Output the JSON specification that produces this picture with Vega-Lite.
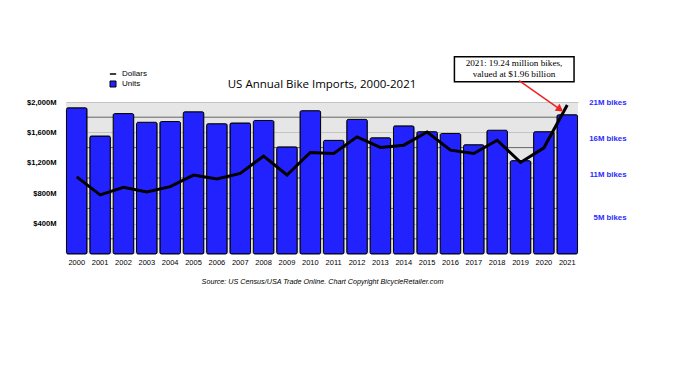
{
  "$schema": "https://vega.github.io/schema/vega-lite/v6.json",
  "width": 512,
  "height": 152,
  "autosize": {"type": "none"},
  "padding": {"left": 66, "top": 102, "right": 98, "bottom": 126},
  "background": "white",
  "config": {
    "view": {"fill": "#e6e6e6", "stroke": null},
    "font": "Liberation Sans"
  },
  "title": {
    "text": "US Annual Bike Imports, 2000-2021",
    "font": "Open Sans",
    "fontSize": 11.5,
    "fontWeight": "normal",
    "color": "#000000",
    "anchor": "middle",
    "offset": -35
  },
  "datasets": {
    "imports": [
      {"year": "2000", "units": 20.2, "dollars": 1015},
      {"year": "2001", "units": 16.3, "dollars": 777},
      {"year": "2002", "units": 19.4, "dollars": 878},
      {"year": "2003", "units": 18.2, "dollars": 816},
      {"year": "2004", "units": 18.3, "dollars": 886},
      {"year": "2005", "units": 19.65, "dollars": 1039},
      {"year": "2006", "units": 18.0, "dollars": 986},
      {"year": "2007", "units": 18.1, "dollars": 1061},
      {"year": "2008", "units": 18.45, "dollars": 1288},
      {"year": "2009", "units": 14.8, "dollars": 1040},
      {"year": "2010", "units": 19.8, "dollars": 1336},
      {"year": "2011", "units": 15.7, "dollars": 1323},
      {"year": "2012", "units": 18.6, "dollars": 1541},
      {"year": "2013", "units": 16.06, "dollars": 1402},
      {"year": "2014", "units": 17.7, "dollars": 1432},
      {"year": "2015", "units": 16.9, "dollars": 1606},
      {"year": "2016", "units": 16.65, "dollars": 1366},
      {"year": "2017", "units": 15.1, "dollars": 1323},
      {"year": "2018", "units": 17.1, "dollars": 1497},
      {"year": "2019", "units": 12.9, "dollars": 1205},
      {"year": "2020", "units": 16.9, "dollars": 1397},
      {"year": "2021", "units": 19.24, "dollars": 1960}
    ],
    "grid": [{"v": 200}, {"v": 600}, {"v": 1000}, {"v": 1400}, {"v": 1800}]
  },
  "layer": [
    {
      "data": {"name": "grid"},
      "mark": {"type": "rule", "color": "#666666", "strokeWidth": 1},
      "encoding": {
        "y": {"field": "v", "type": "quantitative", "scale": {"domain": [0, 2000], "nice": false}, "axis": null}
      }
    },
    {
      "data": {"name": "imports"},
      "mark": {"type": "bar", "stroke": "black", "strokeWidth": 1, "cornerRadius": 1.5},
      "encoding": {
        "x": {
          "field": "year", "type": "ordinal",
          "scale": {"type": "band", "paddingInner": 0.12, "paddingOuter": 0.02},
          "axis": {
            "labelAngle": 0, "ticks": false, "domain": false, "labelPadding": 4,
            "labelFont": "Liberation Sans", "labelFontSize": 7.5, "labelColor": "#000000",
            "title": "Source: US Census/USA Trade Online. Chart Copyright BicycleRetailer.com",
            "titleFont": "Liberation Sans", "titleFontStyle": "italic", "titleFontWeight": "normal",
            "titleFontSize": 7.2, "titleColor": "#000000", "titlePadding": 12
          }
        },
        "y": {
          "field": "units", "type": "quantitative",
          "scale": {"domain": [0, 21], "nice": false},
          "axis": {
            "orient": "right", "values": [5, 11, 16, 21],
            "labelExpr": "datum.value + 'M bikes'",
            "labelAlign": "right", "labelPadding": 48,
            "labelFont": "Liberation Sans", "labelFontSize": 7.8, "labelFontWeight": "bold",
            "labelColor": "#2a2aff", "ticks": false, "domain": false, "grid": false, "title": null
          }
        },
        "fill": {
          "datum": "Units",
          "scale": {"domain": ["Units"], "range": ["#2222ff"]},
          "legend": {
            "orient": "none", "legendX": 43, "legendY": -22, "title": null,
            "symbolType": "square", "symbolSize": 36,
            "symbolStrokeColor": "#000000", "symbolStrokeWidth": 1,
            "labelFont": "Liberation Sans", "labelFontSize": 8, "labelColor": "#000000",
            "labelOffset": 5
          }
        }
      }
    },
    {
      "data": {"name": "imports"},
      "mark": {"type": "line", "strokeWidth": 3},
      "encoding": {
        "x": {
          "field": "year", "type": "ordinal", "bandPosition": 0.5,
          "scale": {"type": "band", "paddingInner": 0.12, "paddingOuter": 0.02},
          "axis": null
        },
        "y": {
          "field": "dollars", "type": "quantitative",
          "scale": {"domain": [0, 2000], "nice": false},
          "axis": {
            "orient": "left", "values": [400, 800, 1200, 1600, 2000],
            "labelExpr": "'$' + format(datum.value, ',') + 'M'",
            "labelFont": "Liberation Sans", "labelFontSize": 7.6, "labelFontWeight": "bold",
            "labelColor": "#000000", "labelPadding": 10,
            "ticks": false, "domain": false, "grid": true, "gridColor": "#c4c4c4", "gridWidth": 1,
            "title": null
          }
        },
        "stroke": {
          "datum": "Dollars",
          "scale": {"domain": ["Dollars"], "range": ["#000000"]},
          "legend": {
            "orient": "none", "legendX": 43, "legendY": -32, "title": null,
            "symbolType": "stroke", "symbolSize": 40, "symbolStrokeWidth": 1.5,
            "labelFont": "Liberation Sans", "labelFontSize": 8, "labelColor": "#000000",
            "labelOffset": 5
          }
        }
      }
    },
    {
      "layer": [
        {
          "data": {"values": [{"x": 2016.19, "x2": 2021.33, "y": 2596, "y2": 2267}]},
          "mark": {"type": "rect", "fill": "white", "stroke": "black", "strokeWidth": 1.5},
          "encoding": {
            "x": {"field": "x", "type": "quantitative", "scale": {"domain": [1999.5, 2021.5], "nice": false, "zero": false}, "axis": null},
            "x2": {"field": "x2"},
            "y": {"field": "y", "type": "quantitative", "scale": {"domain": [0, 2000], "nice": false}, "axis": null},
            "y2": {"field": "y2"}
          }
        },
        {
          "data": {"values": [{"x": 2018.75, "y": 2560, "t": "2021: 19.24 million bikes,\nvalued at $1.96 billion"}]},
          "mark": {"type": "text", "font": "Liberation Serif", "fontSize": 9.2, "lineBreak": "\n", "lineHeight": 10.5, "align": "center", "baseline": "top", "color": "#000000"},
          "encoding": {
            "x": {"field": "x", "type": "quantitative", "scale": {"domain": [1999.5, 2021.5], "nice": false, "zero": false}, "axis": null},
            "y": {"field": "y", "type": "quantitative", "scale": {"domain": [0, 2000], "nice": false}, "axis": null},
            "text": {"field": "t"}
          }
        },
        {
          "data": {"values": [{"x": 2018.97, "y": 2281, "x2": 2020.73, "y2": 1903}]},
          "mark": {"type": "rule", "color": "#ee2222", "strokeWidth": 1.5},
          "encoding": {
            "x": {"field": "x", "type": "quantitative", "scale": {"domain": [1999.5, 2021.5], "nice": false, "zero": false}, "axis": null},
            "x2": {"field": "x2"},
            "y": {"field": "y", "type": "quantitative", "scale": {"domain": [0, 2000], "nice": false}, "axis": null},
            "y2": {"field": "y2"}
          }
        },
        {
          "data": {"values": [{"x": 2020.73, "y": 1903}]},
          "mark": {"type": "point", "shape": "triangle-up", "filled": true, "color": "#ee2222", "opacity": 1, "size": 70, "angle": 125},
          "encoding": {
            "x": {"field": "x", "type": "quantitative", "scale": {"domain": [1999.5, 2021.5], "nice": false, "zero": false}, "axis": null},
            "y": {"field": "y", "type": "quantitative", "scale": {"domain": [0, 2000], "nice": false}, "axis": null}
          }
        }
      ]
    }
  ],
  "resolve": {"scale": {"x": "independent", "y": "independent"}}
}
